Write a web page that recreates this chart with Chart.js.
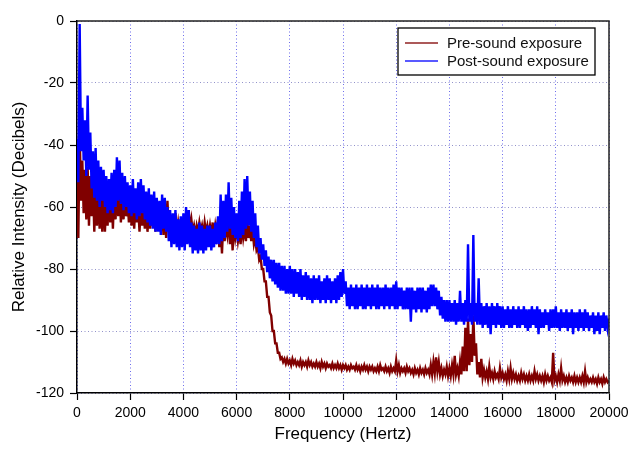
<!DOCTYPE html>
<html>
<head>
<meta charset="utf-8">
<script src="https://cdn.jsdelivr.net/npm/chart.js@4/dist/chart.umd.min.js"></script>
<style>
html,body{margin:0;padding:0;background:#fff;}
canvas{display:block;}
</style>
</head>
<body>
<canvas id="c" width="630" height="449"></canvas>
<script>
// ---- data ----
const freqStepHz = 50; // samples alternate upper / lower edge of the noise band every 50 Hz
const seriesLabels = ['Pre-sound exposure', 'Post-sound exposure'];
const xTickValues = [0,2000,4000,6000,8000,10000,12000,14000,16000,18000,20000];
const yTickValues = [0,-20,-40,-60,-80,-100,-120];

const preSound = [
 -52,-70, -36,-58, -45,-62, -48,-64, -47,-66, -50,-63, -52,-68, -54,-66, -53,-67, -56,-68,
 -55,-68, -57,-66, -54,-65, -56,-67, -55,-64, -53,-63, -54,-65, -56,-64, -55,-63, -57,-65,
 -58,-66, -57,-67, -58,-65, -60,-68, -59,-66, -61,-67, -60,-68, -62,-67, -61,-66, -60,-68,
 -61,-67, -62,-68, -59,-69, -58,-70, -58,-67, -63,-68, -64,-69, -62,-68, -65,-69, -64,-70,
 -65,-69, -63,-68, -61,-67, -64,-68, -66,-69, -66,-68, -65,-68, -66,-69, -65,-68, -66,-69,
 -66,-69, -65,-70, -66,-69, -64,-73, -66,-75, -65,-71, -66,-69, -64,-72, -65,-74, -66,-70,
 -67,-71, -68,-72, -66,-70, -67,-71, -65,-70, -66,-71, -67,-72, -70,-74, -73,-77, -76,-80,
 -80,-84, -84,-89, -89,-94, -95,-100, -100,-104, -104,-107, -107,-109, -108.5,-110, -109,-110.5, -109,-110.5,
 -109.5,-111, -109,-110.5, -109.5,-111, -110,-111, -109.5,-111.5, -110,-111, -110,-111.5, -109.5,-111, -110,-111.5, -110.5,-111.5,
 -110,-111.5, -110.5,-112, -110,-111.5, -110.5,-112, -110.5,-111.5, -111,-112, -110.5,-112, -111,-112, -110.5,-112, -111,-112.5,
 -111,-112, -111,-112.5, -111.5,-112.5, -111,-112, -111.5,-112.5, -111,-112.5, -111.5,-113, -111.5,-112.5, -111,-112.5, -111.5,-113,
 -111.5,-112.5, -111.5,-113, -112,-113, -111.5,-113, -111,-112.5, -112,-113, -111.5,-113, -112,-113.5, -111.5,-113, -112,-113,
 -109.5,-113, -111,-113.5, -112,-113, -112,-113.5, -111.5,-113, -112,-113.5, -112.5,-114, -112,-113.5, -112.5,-114, -112,-113.5,
 -112.5,-114, -112,-113.5, -112.5,-114, -111,-114, -110,-113.5, -108.5,-113, -110,-114, -112,-114.5, -112.5,-114, -111.5,-114.5,
 -112,-114.5, -111,-114, -108,-114, -112,-114.5, -110,-114, -105,-113, -99,-113, -96,-111, -101,-110, -95,-108,
 -104,-114, -110,-115, -109,-115, -112.5,-115, -113,-115.5, -111.5,-115, -113.5,-115.5, -113,-115, -114,-115.5, -112,-115,
 -113.5,-115.5, -114,-116, -113,-115.5, -112,-115.5, -113.5,-115.5, -114,-116, -114.5,-116, -113.5,-115.5, -114,-116, -114.5,-116,
 -114,-116, -114.5,-116, -113,-115.5, -114,-116, -114.5,-116, -114.5,-116.5, -114,-116, -114.5,-116, -115,-116.5, -107,-116,
 -114.5,-116.5, -114,-116, -112,-116, -114.5,-116.5, -115,-116.5, -114.5,-116, -115,-116.5, -114.5,-116.5, -115,-116.5, -115,-116.5,
 -114.5,-116.5, -113,-116.5, -115,-116.5, -115.5,-116.5, -115,-116.5, -115.5,-117, -115,-116.5, -115.5,-117, -115,-116.5, -115.5,-116.5,
 -116
];

const postSound = [
 -38,-52, -1,-42, -28,-45, -32,-50, -24,-48, -36,-54, -42,-57, -41,-58, -45,-60, -47,-58,
 -48,-60, -50,-62, -51,-61, -49,-62, -48,-60, -44,-58, -45,-59, -49,-61, -50,-60, -52,-62,
 -53,-63, -51,-62, -54,-64, -52,-63, -51,-62, -53,-64, -55,-65, -54,-66, -56,-67, -55,-68,
 -57,-68, -58,-69, -56,-67, -57,-68, -60,-71, -61,-73, -62,-72, -61,-73, -64,-74, -63,-73,
 -62,-74, -60,-72, -61,-73, -65,-75, -66,-74, -67,-75, -65,-74, -66,-75, -67,-74, -66,-73,
 -66,-74, -67,-73, -65,-72, -63,-72, -56,-71, -58,-70, -56,-68, -52,-67, -57,-69, -60,-70,
 -62,-71, -58,-70, -55,-69, -51,-67, -50,-66, -55,-68, -58,-70, -62,-73, -66,-75, -70,-77,
 -72,-79, -74,-81, -76,-83, -77,-84, -77,-85, -78,-86, -78,-87, -79,-87, -79,-88, -80,-88,
 -79,-88, -80,-89, -80,-88, -81,-89, -80,-90, -82,-89, -81,-90, -82,-90, -83,-91, -82,-90,
 -83,-90, -82,-91, -84,-90, -83,-91, -82,-90, -83,-91, -84,-90, -83,-91, -82,-90, -81,-89,
 -80,-88, -84,-92, -86,-93, -85,-92, -86,-93, -85,-93, -86,-92, -85,-93, -86,-93, -85,-92,
 -86,-93, -85,-92, -86,-93, -85,-93, -86,-92, -86,-93, -85,-92, -86,-93, -86,-92, -85,-93,
 -84,-93, -86,-92, -86,-93, -87,-93, -86,-93, -86,-97, -86,-93, -87,-94, -86,-93, -86,-94,
 -86,-93, -87,-94, -86,-93, -85,-92, -85,-92, -86,-93, -87,-95, -89,-96, -90,-97, -90,-97,
 -90,-97, -91,-97, -90,-98, -91,-97, -87,-97, -91,-98, -90,-97, -72,-97, -91,-98, -69,-97,
 -91,-98, -83,-98, -91,-99, -92,-98, -91,-99, -92,-101, -91,-98, -92,-99, -91,-98, -92,-99,
 -92,-99, -93,-98, -92,-99, -93,-99, -92,-98, -93,-99, -92,-99, -93,-98, -92,-99, -93,-100,
 -93,-99, -92,-98, -93,-99, -92,-101, -93,-99, -94,-99, -93,-98, -94,-100, -93,-99, -93,-99,
 -92,-99, -94,-100, -93,-99, -94,-99, -93,-100, -94,-99, -93,-101, -94,-99, -94,-100, -93,-99,
 -94,-100, -93,-99, -94,-100, -95,-99, -94,-101, -95,-100, -94,-101, -95,-99, -94,-100, -95,-99,
 -96
];

const seriesColors = ['#800000', '#0000ff'];
const FONT = 'Liberation Sans, Arial, Helvetica, sans-serif';

const toPoints = vals => vals.map((v, i) => ({ x: i * freqStepHz, y: v }));

// frame (top/right) + boxed legend inside chart area
const framePlugin = {
  id: 'frameAndLegend',
  afterDatasetsDraw(chart) {
    const { ctx, chartArea: a } = chart;
    ctx.save();
    ctx.strokeStyle = '#222';
    ctx.lineWidth = 1.5;
    ctx.beginPath();
    ctx.moveTo(a.left, a.top);
    ctx.lineTo(a.right, a.top);
    ctx.lineTo(a.right, a.bottom);
    ctx.stroke();
    ctx.restore();
  },
  afterDraw(chart) {
    const { ctx, chartArea: a } = chart;
    const bx = a.right - 211, by = a.top + 7, bw = 197, bh = 47;
    ctx.save();
    ctx.fillStyle = '#fff';
    ctx.fillRect(bx, by, bw, bh);
    ctx.strokeStyle = '#000';
    ctx.lineWidth = 1.3;
    ctx.strokeRect(bx, by, bw, bh);
    ctx.font = '15px ' + FONT;
    ctx.textBaseline = 'middle';
    ctx.fillStyle = '#111';
    chart.data.datasets.forEach((ds, i) => {
      const y = by + 15 + i * 18;
      ctx.strokeStyle = ds.borderColor;
      ctx.globalAlpha = 0.65;
      ctx.lineWidth = 2;
      ctx.beginPath();
      ctx.moveTo(bx + 7, y);
      ctx.lineTo(bx + 40, y);
      ctx.stroke();
      ctx.globalAlpha = 1;
      ctx.fillText(ds.label, bx + 49, y + 1);
    });
    ctx.restore();
  }
};

new Chart(document.getElementById('c'), {
  type: 'line',
  data: {
    datasets: [
      { label: seriesLabels[0], data: toPoints(preSound), borderColor: seriesColors[0], borderWidth: 2.4, pointRadius: 0, order: 2, tension: 0 },
      { label: seriesLabels[1], data: toPoints(postSound), borderColor: seriesColors[1], borderWidth: 2.4, pointRadius: 0, order: 1, tension: 0 }
    ]
  },
  options: {
    responsive: false,
    animation: false,
    parsing: false,
    normalized: true,
    layout: { padding: { top: 21, right: 21, left: 0, bottom: 0 } },
    plugins: { legend: { display: false }, tooltip: { enabled: false } },
    scales: {
      x: {
        type: 'linear', min: 0, max: 20000,
        afterBuildTicks: s => { s.ticks = xTickValues.map(v => ({ value: v })); },
        afterFit: s => { s.height = 56; s.paddingLeft = 0; s.paddingRight = 0; },
        ticks: { color: '#000', font: { size: 14, family: FONT }, padding: 5, maxRotation: 0, autoSkip: false, callback: v => String(v) },
        grid: { color: 'rgba(60,60,230,0.75)', lineWidth: 1, tickColor: '#000', tickLength: 7, tickWidth: 1.2, tickBorderDash: [] },
        border: { color: '#000', width: 1.5, dash: [1, 2.5] },
        title: { display: true, text: 'Frequency (Hertz)', color: '#000', font: { size: 17, family: FONT }, padding: { top: 0, bottom: 4 } }
      },
      y: {
        type: 'linear', min: -120, max: 0,
        afterBuildTicks: s => { s.ticks = yTickValues.map(v => ({ value: v })); },
        afterFit: s => { s.width = 77; s.paddingTop = 0; s.paddingBottom = 0; },
        ticks: { color: '#000', font: { size: 14, family: FONT }, padding: 6, callback: v => String(v) },
        grid: { color: 'rgba(100,100,180,0.7)', lineWidth: 1, tickColor: '#000', tickLength: 7, tickWidth: 1.2, tickBorderDash: [] },
        border: { color: '#000', width: 1.5, dash: [1, 2.5] },
        title: { display: true, text: 'Relative Intensity (Decibels)', color: '#000', font: { size: 17, family: FONT }, padding: { top: 9, bottom: 0 } }
      }
    }
  },
  plugins: [framePlugin]
});
</script>
</body>
</html>
